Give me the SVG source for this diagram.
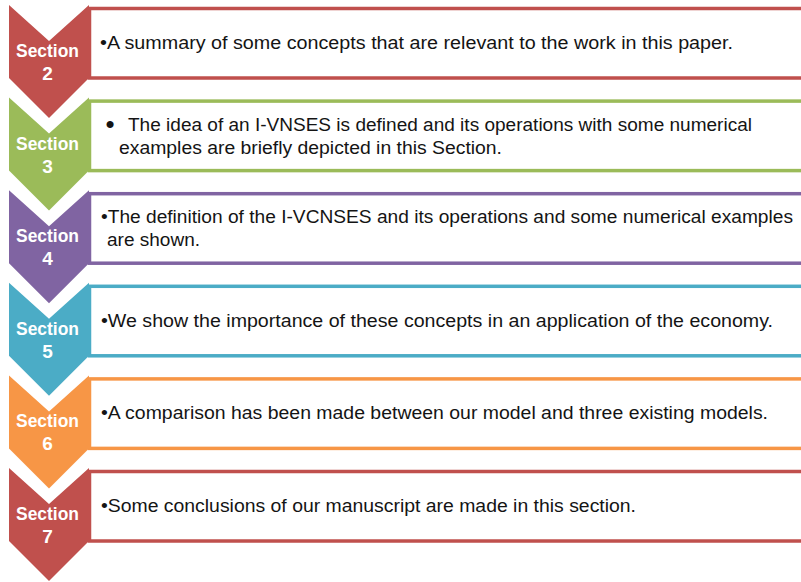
<svg xmlns="http://www.w3.org/2000/svg" width="801" height="582" viewBox="0 0 801 582">
  <style>
    .box { fill: #ffffff; stroke-width: 3.5; }
    .lbl { font-family: "Liberation Sans", Arial, sans-serif; font-weight: bold; font-size: 19px; fill: #ffffff; text-anchor: middle; }
    .txt { font-family: "Liberation Sans", Arial, sans-serif; font-size: 17.5px; fill: #141414; }
    .dot { font-family: "Liberation Sans", Arial, sans-serif; font-size: 26px; fill: #141414; text-anchor: middle; }
    .red { fill: #C0504D; } .red-s { stroke: #C0504D; }
    .green { fill: #9BBB59; } .green-s { stroke: #9BBB59; }
    .purple { fill: #8064A2; } .purple-s { stroke: #8064A2; }
    .blue { fill: #4BACC6; } .blue-s { stroke: #4BACC6; }
    .orange { fill: #F79646; } .orange-s { stroke: #F79646; }
  </style>
  <defs>
    <!-- downward chevron, 80 wide -->
    <polygon id="chev" points="9,0 49,36 89,0 89,73 49,113 9,73"/>
  </defs>
  <rect width="801" height="582" fill="#ffffff"/>

  <!-- Section 2 -->
  <g id="section2">
    <rect class="box red-s" x="89.5" y="8.5" width="740" height="69.5"/>
    <use href="#chev" class="red" y="5"/>
    <text class="lbl" x="47.5" y="57" textLength="63" lengthAdjust="spacingAndGlyphs">Section</text>
    <text class="lbl" x="47.5" y="80">2</text>
    <text class="txt" x="100" y="49" textLength="633" lengthAdjust="spacingAndGlyphs">•A summary of some concepts that are relevant to the work in this paper.</text>
  </g>

  <!-- Section 3 -->
  <g id="section3" transform="translate(0,92.6)">
    <rect class="box green-s" x="89.5" y="8.5" width="740" height="69.5"/>
    <use href="#chev" class="green" y="5"/>
    <text class="lbl" x="47.5" y="57" textLength="63" lengthAdjust="spacingAndGlyphs">Section</text>
    <text class="lbl" x="47.5" y="80">3</text>
    <text class="dot" x="110" y="40.5">•</text>
    <text class="txt" x="128" y="38.8" textLength="624" lengthAdjust="spacingAndGlyphs">The idea of an I-VNSES is defined and its operations with some numerical</text>
    <text class="txt" x="119" y="61.8" textLength="383" lengthAdjust="spacingAndGlyphs">examples are briefly depicted in this Section.</text>
  </g>

  <!-- Section 4 -->
  <g id="section4" transform="translate(0,185.2)">
    <rect class="box purple-s" x="89.5" y="8.5" width="740" height="69.5"/>
    <use href="#chev" class="purple" y="5"/>
    <text class="lbl" x="47.5" y="57" textLength="63" lengthAdjust="spacingAndGlyphs">Section</text>
    <text class="lbl" x="47.5" y="80">4</text>
    <text class="txt" x="101" y="38" textLength="692" lengthAdjust="spacingAndGlyphs">•The definition of the I-VCNSES and its operations and some numerical examples</text>
    <text class="txt" x="107" y="60.5" textLength="93" lengthAdjust="spacingAndGlyphs">are shown.</text>
  </g>

  <!-- Section 5 -->
  <g id="section5" transform="translate(0,277.8)">
    <rect class="box blue-s" x="89.5" y="8.5" width="740" height="69.5"/>
    <use href="#chev" class="blue" y="5"/>
    <text class="lbl" x="47.5" y="57" textLength="63" lengthAdjust="spacingAndGlyphs">Section</text>
    <text class="lbl" x="47.5" y="80">5</text>
    <text class="txt" x="101" y="49" textLength="672" lengthAdjust="spacingAndGlyphs">•We show the importance of these concepts in an application of the economy.</text>
  </g>

  <!-- Section 6 -->
  <g id="section6" transform="translate(0,370.4)">
    <rect class="box orange-s" x="89.5" y="8.5" width="740" height="69.5"/>
    <use href="#chev" class="orange" y="5"/>
    <text class="lbl" x="47.5" y="57" textLength="63" lengthAdjust="spacingAndGlyphs">Section</text>
    <text class="lbl" x="47.5" y="80">6</text>
    <text class="txt" x="101" y="49" textLength="667" lengthAdjust="spacingAndGlyphs">•A comparison has been made between our model and three existing models.</text>
  </g>

  <!-- Section 7 -->
  <g id="section7" transform="translate(0,463)">
    <rect class="box red-s" x="89.5" y="8.5" width="740" height="69.5"/>
    <use href="#chev" class="red" y="5"/>
    <text class="lbl" x="47.5" y="57" textLength="63" lengthAdjust="spacingAndGlyphs">Section</text>
    <text class="lbl" x="47.5" y="80">7</text>
    <text class="txt" x="101" y="49" textLength="535" lengthAdjust="spacingAndGlyphs">•Some conclusions of our manuscript are made in this section.</text>
  </g>

  <g id="connectors"/>
</svg>
